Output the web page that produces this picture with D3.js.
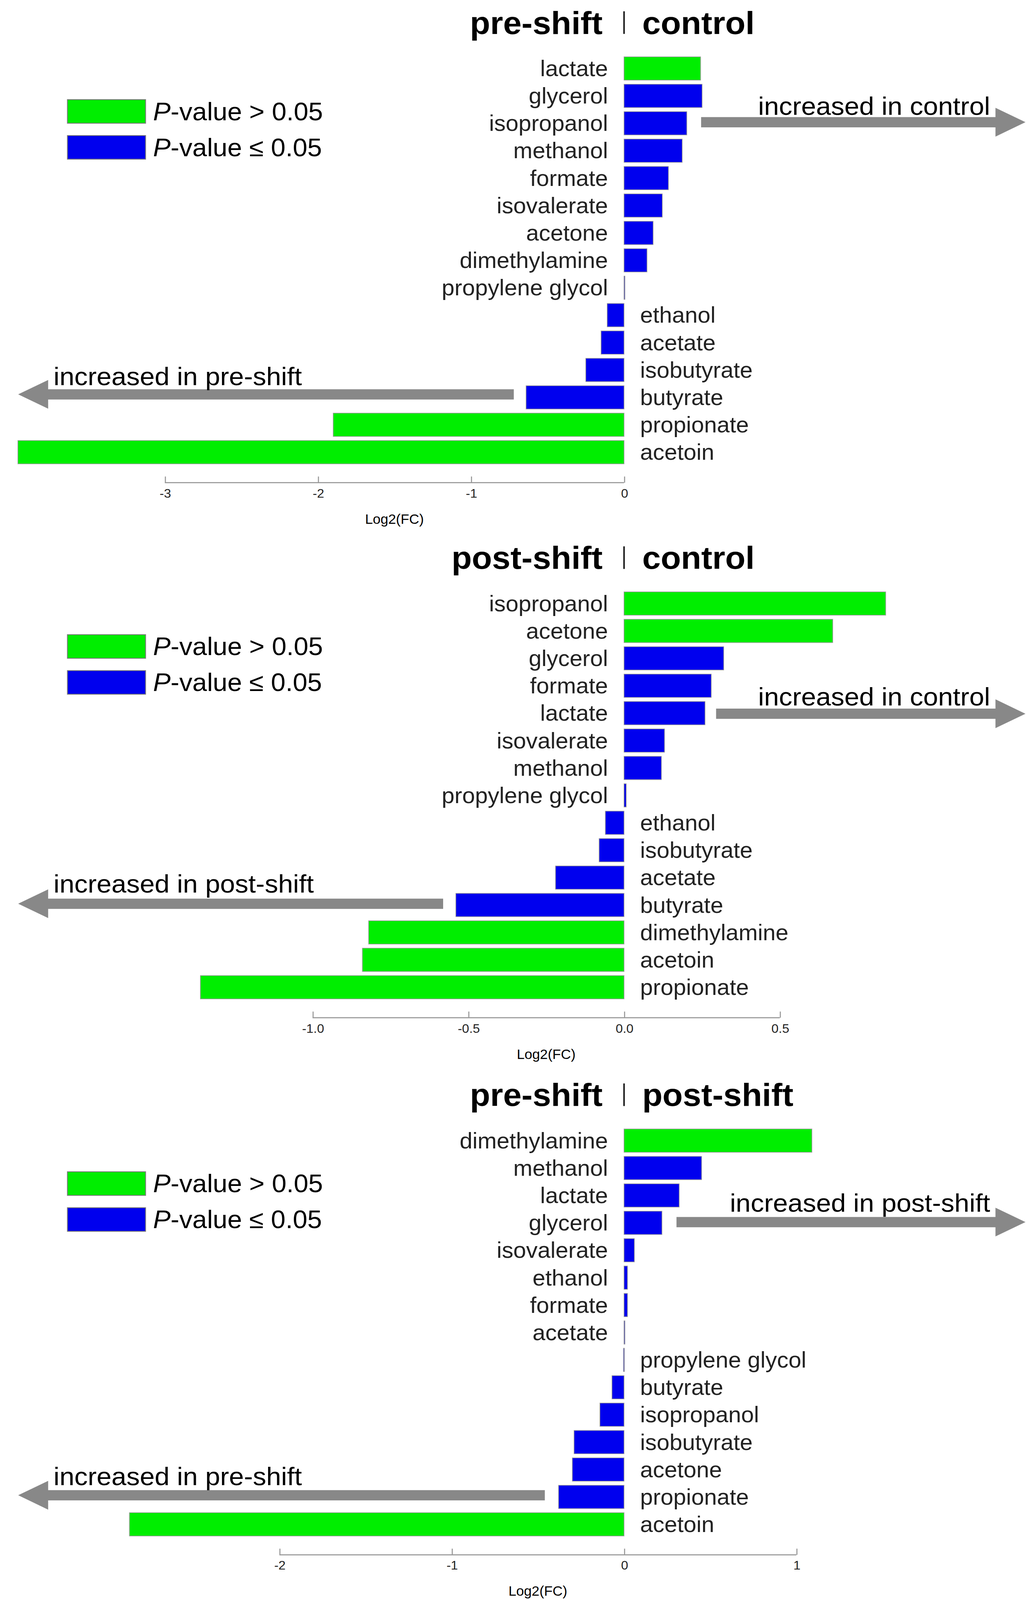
<!DOCTYPE html><html><head><meta charset="utf-8">
<script src="https://cdn.jsdelivr.net/npm/d3@7"></script>
<style>html,body{margin:0;padding:0;background:#fff;overflow:hidden}svg{display:block;position:absolute;left:0;top:0}</style></head><body>
<svg id="c" viewBox="0 0 966 1558" preserveAspectRatio="none" style="width:100vw;height:100vh"></svg>
<script>
const p1Names=["lactate","glycerol","isopropanol","methanol","formate","isovalerate","acetone","dimethylamine","propylene glycol","ethanol","acetate","isobutyrate","butyrate","propionate","acetoin"];
const p1Values=[0.50,0.51,0.41,0.38,0.29,0.25,0.19,0.15,0.005,-0.11,-0.15,-0.25,-0.64,-1.90,-3.96];
const p1Sig=[0,1,1,1,1,1,1,1,1,1,1,1,1,0,0];
const p2Names=["isopropanol","acetone","glycerol","formate","lactate","isovalerate","methanol","propylene glycol","ethanol","isobutyrate","acetate","butyrate","dimethylamine","acetoin","propionate"];
const p2Values=[0.84,0.67,0.32,0.28,0.26,0.13,0.12,0.007,-0.06,-0.08,-0.22,-0.54,-0.82,-0.84,-1.36];
const p2Sig=[0,0,1,1,1,1,1,1,1,1,1,1,0,0,0];
const p3Names=["dimethylamine","methanol","lactate","glycerol","isovalerate","ethanol","formate","acetate","propylene glycol","butyrate","isopropanol","isobutyrate","acetone","propionate","acetoin"];
const p3Values=[1.09,0.45,0.32,0.22,0.06,0.02,0.02,0.003,-0.003,-0.07,-0.14,-0.29,-0.30,-0.38,-2.87];
const p3Sig=[0,1,1,1,1,1,1,1,1,1,1,1,1,1,0];
const p1Ticks=[-3,-2,-1,0], p2Ticks=[-1.0,-0.5,0.0,0.5], p3Ticks=[-2,-1,0,1];

const fmtD=v=>d3.format("d")(v).replace("\u2212","-"), fmt1=v=>d3.format(".1f")(v).replace("\u2212","-");
const panels=[
 {names:p1Names,vals:p1Values,sig:p1Sig,ticks:p1Ticks,fmt:fmtD,dom:[-3,0],unit:143,top:0,left:"pre-shift",right:"control",
  ra:{x1:655,y:119,tx:925,ty:104,t:"increased in control"},la:{x1:480,y:384,ty:367,t:"increased in pre-shift"}},
 {names:p2Names,vals:p2Values,sig:p2Sig,ticks:p2Ticks,fmt:fmt1,dom:[-1,0.5],unit:291,top:521,left:"post-shift",right:"control",
  ra:{x1:669,y:695-521,tx:925,ty:679-521,t:"increased in control"},la:{x1:414,y:880-521,ty:861-521,t:"increased in post-shift"}},
 {names:p3Names,vals:p3Values,sig:p3Sig,ticks:p3Ticks,fmt:fmtD,dom:[-2,1],unit:161,top:1044,left:"pre-shift",right:"post-shift",
  ra:{x1:632,y:1190-1044,tx:925,ty:1172-1044,t:"increased in post-shift"},la:{x1:509,y:1456-1044,ty:1438-1044,t:"increased in pre-shift"}}
];
const svg=d3.select("#c");
const F="Liberation Sans, Arial, sans-serif";
panels.forEach(p=>{
  const g=svg.append("g").attr("transform",`translate(0,${p.top})`);
  const x=d3.scaleLinear().domain([0,1]).range([583,583+p.unit]);
  const y=d3.scaleBand().domain(p.names).range([54,453]).paddingInner(0.15).paddingOuter(0.05);
  g.append("text").attr("x",563).attr("y",33).attr("text-anchor","end").attr("font-family",F).attr("font-weight","bold").attr("font-size",31).text(p.left);
  g.append("line").attr("x1",583).attr("x2",583).attr("y1",11).attr("y2",33).attr("stroke","#222").attr("stroke-width",1.5);
  g.append("text").attr("x",600).attr("y",33).attr("font-family",F).attr("font-weight","bold").attr("font-size",31).text(p.right);
  [["#00ee00","P","-value > 0.05",97],["#0000ee","P","-value \u2264 0.05",132]].forEach(l=>{
    g.append("rect").attr("x",63).attr("y",l[3]).attr("width",73).attr("height",23).attr("fill",l[0]).attr("stroke","#777").attr("stroke-width",0.8);
    const t=g.append("text").attr("x",143).attr("y",l[3]+20).attr("font-family",F).attr("font-size",24.5);
    t.append("tspan").attr("font-style","italic").text(l[1]);t.append("tspan").text(l[2]);
  });
  p.names.forEach((n,i)=>{
    const v=p.vals[i];
    g.append("rect").attr("x",x(Math.min(0,v))).attr("y",y(n)).attr("width",Math.max(0.8,Math.abs(x(v)-x(0)))).attr("height",y.bandwidth())
     .attr("fill",p.sig[i]?"#0000ee":"#00ee00").attr("stroke","#999").attr("stroke-width",0.6);
    g.append("text").attr("x",v>=0?568:598).attr("y",y(n)+y.bandwidth()/2+7.5).attr("text-anchor",v>=0?"end":"start")
     .attr("font-family",F).attr("font-size",21.5).attr("fill","#222").text(n);
  });
  const ax=g.append("g").attr("transform","translate(0,470)").call(d3.axisBottom(x).tickValues(p.ticks).tickFormat(p.fmt).tickSize(-6).tickPadding(6));
  ax.select(".domain").attr("stroke","#999").attr("d",`M${x(p.dom[0])},0H${x(p.dom[1])}`);
  ax.selectAll(".tick line").attr("stroke","#999").attr("y2",-6);
  ax.selectAll("text").attr("font-family",F).attr("font-size",12).attr("fill","#222");
  g.append("text").attr("x",(x(p.dom[0])+x(p.dom[1]))/2).attr("y",510).attr("text-anchor","middle").attr("font-family",F).attr("font-size",13).text("Log2(FC)");
  const ar=p.ra;
  g.append("path").attr("d",`M${ar.x1},${ar.y-5}H930V${ar.y-14}L958,${ar.y}L930,${ar.y+14}V${ar.y+5}H${ar.x1}Z`).attr("fill","#888");
  g.append("text").attr("x",ar.tx).attr("y",ar.ty+8).attr("text-anchor","end").attr("font-family",F).attr("font-size",25).text(ar.t);
  const al=p.la;
  g.append("path").attr("d",`M${al.x1},${al.y-5}H45V${al.y-14}L17,${al.y}L45,${al.y+14}V${al.y+5}H${al.x1}Z`).attr("fill","#888");
  g.append("text").attr("x",50).attr("y",al.ty+8).attr("font-family",F).attr("font-size",25).text(al.t);
});
</script></body></html>
